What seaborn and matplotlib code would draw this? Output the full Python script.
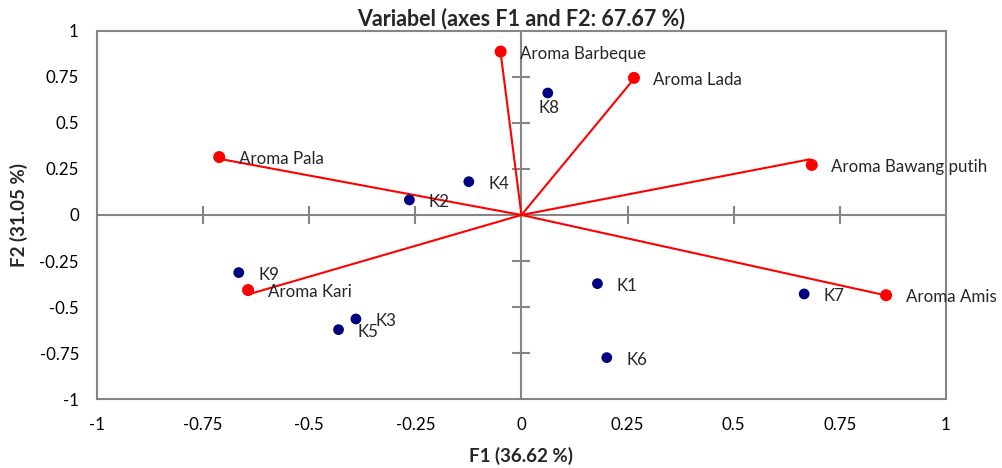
import numpy as np
import pandas as pd
import matplotlib
matplotlib.use('Agg')
import matplotlib.pyplot as plt
import seaborn as sns

sns.set_style('white')
plt.rcParams['font.family'] = ['Lato', 'DejaVu Sans']

# variable loadings (red markers)
var_names = ['Aroma Pala', 'Aroma Barbeque', 'Aroma Lada', 'Aroma Bawang putih',
             'Aroma Amis', 'Aroma Kari']
var_f1 = [-0.712, -0.049, 0.265, 0.684, 0.859, -0.644]
var_f2 = [0.315, 0.888, 0.745, 0.272, -0.436, -0.408]
# ends of the vectors drawn from the origin
vec_f1 = [-0.706, -0.049, 0.263, 0.680, 0.855, -0.640]
vec_f2 = [0.303, 0.880, 0.734, 0.303, -0.435, -0.429]

# observations (blue markers)
obs_names = ['K1', 'K2', 'K3', 'K4', 'K5', 'K6', 'K7', 'K8', 'K9']
obs_f1 = [0.179, -0.264, -0.390, -0.124, -0.431, 0.201, 0.666, 0.062, -0.666]
obs_f2 = [-0.373, 0.082, -0.565, 0.181, -0.623, -0.775, -0.429, 0.663, -0.313]

ticks = [-1, -0.75, -0.5, -0.25, 0, 0.25, 0.5, 0.75, 1]
tick_labels = ['-1', '-0.75', '-0.5', '-0.25', '0', '0.25', '0.5', '0.75', '1']

grey = '#868686'

fig = plt.figure(figsize=(10.03, 4.68), dpi=100)
ax = fig.add_axes([0.0967, 0.1474, 0.8464, 0.7864])

# zero axes with cross ticks
ax.axhline(0, color=grey, lw=1.5, zorder=1)
ax.axvline(0, color=grey, lw=1.5, zorder=1)
inner = [t for t in ticks if t not in (-1, 0, 1)]
ax.scatter(inner, [0] * len(inner), marker='|', s=150, color=grey, lw=1.5, zorder=1)
ax.scatter([0] * len(inner), inner, marker='_', s=150, color=grey, lw=1.5, zorder=1)

# vectors
for x, y in zip(vec_f1, vec_f2):
    ax.plot([0, x], [0, y], color='red', lw=1.5, zorder=2)

df_var = pd.DataFrame({'F1': var_f1, 'F2': var_f2, 'name': var_names})
df_obs = pd.DataFrame({'F1': obs_f1, 'F2': obs_f2, 'name': obs_names})

sns.scatterplot(data=df_var, x='F1', y='F2', color='red', s=75, edgecolor='none',
                ax=ax, zorder=3)
sns.scatterplot(data=df_obs, x='F1', y='F2', color='#000080', s=60, edgecolor='none',
                ax=ax, zorder=3)

fs = 12.2
for _, r in df_var.iterrows():
    ax.annotate(r['name'], (r['F1'], r['F2']), xytext=(14, -1.5),
                textcoords='offset points', ha='left', va='center', fontsize=fs)
for _, r in df_obs.iterrows():
    if r['name'] == 'K8':
        ax.annotate(r['name'], (r['F1'], r['F2']), xytext=(1, -10.5),
                    textcoords='offset points', ha='center', va='center', fontsize=fs)
    else:
        ax.annotate(r['name'], (r['F1'], r['F2']), xytext=(14, -1.5),
                    textcoords='offset points', ha='left', va='center', fontsize=fs)

ax.set_xlim(-1, 1)
ax.set_ylim(-1, 1)
ax.set_xticks(ticks)
ax.set_xticklabels(tick_labels)
ax.set_yticks(ticks)
ax.set_yticklabels(tick_labels)
ax.tick_params(axis='both', length=0, labelsize=fs, colors='black')
ax.tick_params(axis='x', pad=13)
ax.tick_params(axis='y', pad=13)
for sp in ax.spines.values():
    sp.set_color(grey)
    sp.set_linewidth(1.5)

ax.set_title('Variabel (axes F1 and F2: 67.67 %)', fontsize=15.5, fontweight='bold', pad=4)
ax.set_xlabel('F1 (36.62 %)', fontsize=13.5, fontweight='bold', labelpad=10)
ax.set_ylabel('F2 (31.05 %)', fontsize=13.5, fontweight='bold', labelpad=8)

fig.savefig('out.png', dpi=100)
